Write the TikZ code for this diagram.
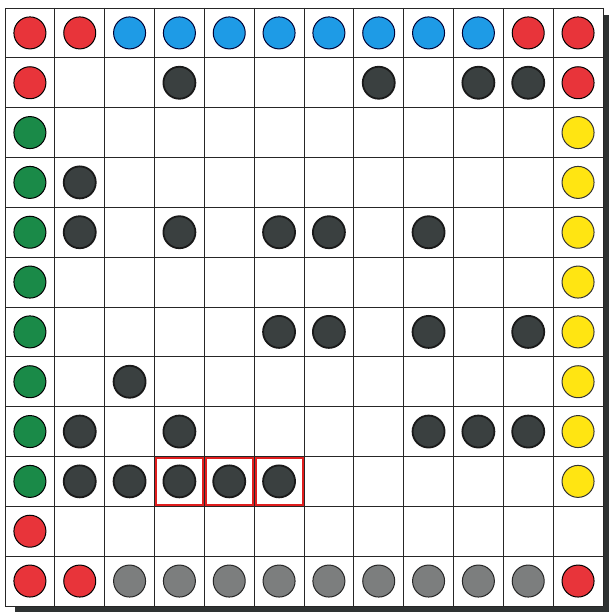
\documentclass[tikz,border=0pt]{standalone}
\usetikzlibrary{calc}
\definecolor{cred}{HTML}{E8343A}
\definecolor{cblue}{HTML}{1E9BE6}
\definecolor{cgreen}{HTML}{1A8A48}
\definecolor{cyellow}{HTML}{FFE512}
\definecolor{cdark}{HTML}{3A4040}
\definecolor{cgray}{HTML}{7C7E7E}
\definecolor{cshadow}{HTML}{2E3232}
\definecolor{chilite}{HTML}{E01E1E}
\tikzset{
  disc/.style={circle, draw=black, line width=1pt, minimum size=32pt, inner sep=0pt},
  dk/.style={disc, fill=cdark, line width=1.8pt, draw=black!90},
  rd/.style={disc, fill=cred},
  bl/.style={disc, fill=cblue, draw=black!80!blue},
  gn/.style={disc, fill=cgreen},
  yl/.style={disc, fill=cyellow, draw=black!80},
  gy/.style={disc, fill=cgray, draw=black!85},
  hilite/.style={draw=chilite, line width=2pt},
  gridline/.style={draw=black!85, line width=0.9pt}
}
\begin{document}
\begin{tikzpicture}[x=1pt,y=-1pt]
\useasboundingbox (0,0) rectangle (609,612);
\fill[white] (0,0) rectangle (609,612);
\def\s{49.83}
% shadow
\fill[cshadow] (604,15) rectangle (609,612);
\fill[cshadow] (15,606) rectangle (609,612);
\fill[white] (5,8) rectangle (603,606);
% grid
\foreach \i in {0,...,12} {
  \draw[gridline] ({5+\i*\s},8) -- ({5+\i*\s},606);
  \draw[gridline] (5,{8+\i*49.83}) -- (603,{8+\i*49.83});
}
% cell centres as coordinates
\foreach \r in {1,...,12} {
  \foreach \c in {1,...,12} {
    \coordinate (p-\r-\c) at ({5+(\c-0.5)*\s},{8+(\r-0.5)*\s});
  }
}
% highlighted cells
\foreach \c in {4,5,6} {
  \draw[hilite] ($(p-10-\c)+(-23.5,-23.5)$) rectangle ($(p-10-\c)+(23.5,23.5)$);
}
% row 1
\foreach \c/\st in {1/rd,2/rd,3/bl,4/bl,5/bl,6/bl,7/bl,8/bl,9/bl,10/bl,11/rd,12/rd}
  \node[\st] (n-1-\c) at (p-1-\c) {};
% row 12
\foreach \c/\st in {1/rd,2/rd,3/gy,4/gy,5/gy,6/gy,7/gy,8/gy,9/gy,10/gy,11/gy,12/rd}
  \node[\st] (n-12-\c) at (p-12-\c) {};
% left column
\foreach \r/\st in {2/rd,3/gn,4/gn,5/gn,6/gn,7/gn,8/gn,9/gn,10/gn,11/rd}
  \node[\st] (n-\r-1) at (p-\r-1) {};
% right column
\foreach \r/\st in {2/rd,3/yl,4/yl,5/yl,6/yl,7/yl,8/yl,9/yl,10/yl}
  \node[\st] (n-\r-12) at (p-\r-12) {};
% dark stones
\foreach \r/\c in {2/4,2/8,2/10,2/11,
                   4/2,
                   5/2,5/4,5/6,5/7,5/9,
                   7/6,7/7,7/9,7/11,
                   8/3,
                   9/2,9/4,9/9,9/10,9/11,
                   10/2,10/3,10/4,10/5,10/6}
  \node[dk] (n-\r-\c) at (p-\r-\c) {};
\end{tikzpicture}
\end{document}
